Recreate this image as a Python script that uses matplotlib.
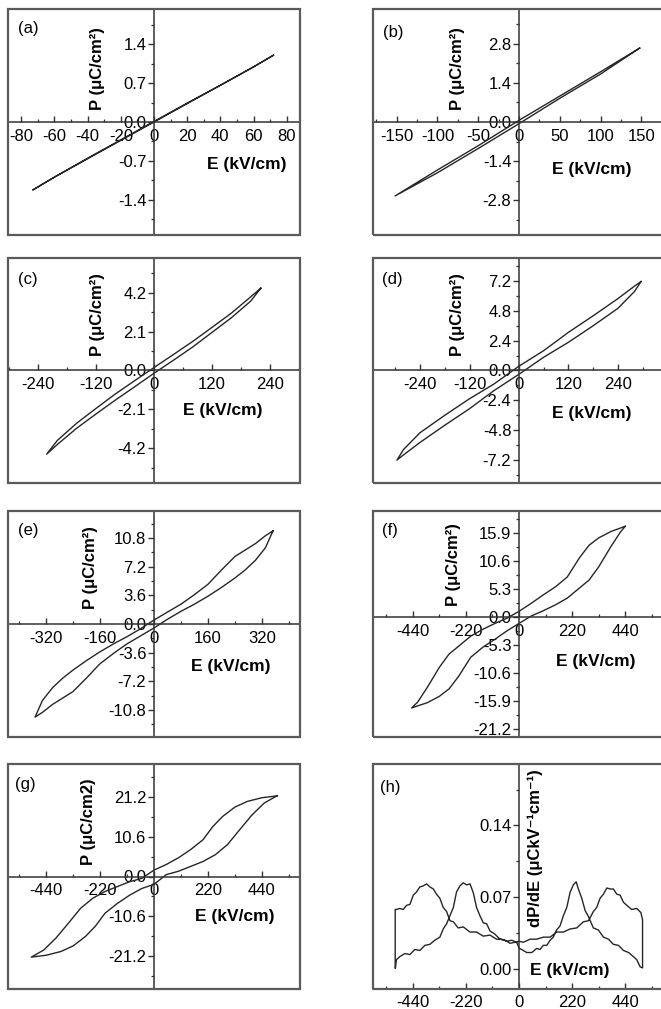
import matplotlib
matplotlib.use('Agg')
import matplotlib.pyplot as plt
from matplotlib.patches import Rectangle
from matplotlib.ticker import MultipleLocator, FormatStrFormatter

plt.rcParams['font.family'] = ['Liberation Sans', 'DejaVu Sans']
plt.rcParams['axes.unicode_minus'] = False

# ---------------- data ----------------
# each loop: upper branch (E decreasing) followed by lower branch (E increasing)
Ea = [72, 60, 40, 20, 0, -20, -40, -60, -73, -60, -40, -20, 0, 20, 40, 60, 72]
Pa = [1.20, 0.99, 0.66, 0.34, 0.01, -0.32, -0.65, -0.99, -1.22,
      -0.99, -0.66, -0.33, 0.00, 0.33, 0.66, 0.99, 1.20]

Eb = [148, 100, 50, 0, -50, -100, -152, -100, -50, 0, 50, 100, 148]
Pb = [2.65, 1.80, 0.93, 0.06, -0.85, -1.72, -2.65, -1.82, -0.95, -0.06, 0.85, 1.72, 2.65]

Ec = [221, 200, 160, 120, 80, 40, 0, -40, -80, -120, -160, -200, -222,
      -200, -160, -120, -80, -40, 0, 40, 80, 120, 160, 200, 221]
Pc = [4.45, 3.98, 3.10, 2.33, 1.57, 0.86, 0.16, -0.55, -1.27, -2.05, -2.85, -3.78, -4.52,
      -4.00, -3.12, -2.35, -1.60, -0.88, -0.15, 0.55, 1.27, 2.06, 2.85, 3.75, 4.45]

Ed = [296, 280, 240, 180, 120, 60, 0, -60, -120, -180, -240, -280, -296,
      -280, -240, -180, -120, -60, 0, 60, 120, 180, 240, 280, 296]
Pd = [7.15, 6.78, 5.78, 4.40, 3.07, 1.60, 0.35, -1.07, -2.27, -3.60, -5.00, -6.35, -7.20,
      -6.78, -5.78, -4.40, -3.07, -1.60, -0.30, 1.07, 2.27, 3.60, 5.00, 6.35, 7.15]

Ee = [352, 330, 300, 270, 240, 200, 160, 120, 80, 40, 0, -40, -80, -120, -160, -200,
      -240, -270, -300, -330, -352,
      -330, -300, -270, -240, -200, -160, -120, -80, -40, 0, 40, 80, 120, 160, 200,
      240, 270, 300, 330, 352]
Pe = [11.7, 11.1, 10.1, 9.3, 8.5, 6.8, 5.0, 3.7, 2.5, 1.5, 0.5, -0.6, -1.6, -2.5, -3.5,
      -4.6, -5.8, -6.8, -8.0, -9.6, -11.7,
      -11.1, -10.1, -9.3, -8.5, -6.8, -5.0, -3.7, -2.5, -1.5, -0.5, 0.6, 1.6, 2.5, 3.5,
      4.6, 5.8, 6.8, 8.0, 9.6, 11.7]

Ef = [440, 380, 330, 290, 250, 200, 150, 100, 50, 0, -50, -100, -150, -200, -250,
      -290, -330, -380, -420, -445,
      -380, -330, -290, -250, -200, -150, -100, -50, 0, 50, 100, 150, 200, 250,
      290, 330, 380, 420, 440]
Pf = [17.2, 16.2, 15.0, 13.6, 11.2, 7.6, 5.7, 4.2, 2.6, 1.1, -0.2, -1.2, -2.3, -3.6, -5.5,
      -7.0, -9.5, -13.3, -16.1, -17.2,
      -16.2, -15.0, -13.6, -11.2, -7.6, -5.7, -4.2, -2.6, -1.2, 0.2, 1.2, 2.3, 3.6, 5.5,
      7.0, 9.5, 13.3, 16.1, 17.2]

Eg = [502, 440, 380, 330, 280, 240, 200, 150, 100, 50, 0, -50, -100, -150, -200,
      -250, -300, -350, -400, -450, -501,
      -440, -380, -330, -280, -240, -200, -150, -100, -50, 0, 50, 100, 150, 200,
      250, 300, 350, 400, 450, 502]
Pg = [21.5, 21.0, 20.0, 18.5, 16.0, 13.3, 9.8, 7.2, 5.0, 3.2, 1.7, -0.5, -1.4, -2.7, -4.0,
      -5.8, -8.5, -12.5, -16.4, -19.6, -21.5,
      -21.0, -20.0, -18.5, -16.0, -13.3, -9.8, -7.2, -5.0, -3.2, -2.1, 0.5, 1.4, 2.7, 4.0,
      5.8, 8.5, 12.5, 16.4, 19.6, 21.5]

# (h) dP/dE : rising-field branch, then falling-field branch
Eh_up = [-512, -508, -494, -473, -452, -432, -411, -390, -369, -349, -328, -314, -300,
         -286, -272, -259, -245, -231, -217, -203, -189, -176, -162, -148, -134, -120,
         -100, -79, -58, -37, -17, 1, 18, 46, 73, 101, 129, 156, 184, 212, 239, 267,
         288, 308, 322, 336, 350, 364, 378, 391, 405, 419, 433, 447, 467, 488, 505, 512, 512]
Dh_up = [0.001, 0.009, 0.012, 0.015, 0.014, 0.019, 0.018, 0.023, 0.024, 0.028, 0.031, 0.039,
         0.044, 0.052, 0.060, 0.075, 0.081, 0.084, 0.082, 0.083, 0.074, 0.060, 0.052, 0.045,
         0.044, 0.037, 0.034, 0.029, 0.028, 0.025, 0.026, 0.027, 0.026, 0.029, 0.029, 0.031,
         0.031, 0.036, 0.036, 0.039, 0.040, 0.046, 0.047, 0.056, 0.060, 0.069, 0.073,
         0.079, 0.078, 0.078, 0.073, 0.072, 0.065, 0.062, 0.058, 0.059, 0.055, 0.048, 0.001]
Eh_dn = [512, 502, 488, 474, 454, 433, 412, 391, 371, 350, 329, 308, 288, 274, 260, 246,
         237, 225, 212, 198, 184, 170, 156, 142, 129, 115, 101, 87, 73, 53, 32, 11, 1,
         -10, -30, -51, -72, -93, -120, -148, -176, -203, -231, -252, -272, -286, -300,
         -314, -328, -342, -355, -369, -383, -397, -411, -425, -438, -452, -466, -480,
         -494, -508, -513, -513]
Dh_dn = [0.001, 0.002, 0.009, 0.012, 0.016, 0.018, 0.023, 0.024, 0.029, 0.031, 0.038,
         0.040, 0.051, 0.057, 0.069, 0.078, 0.085, 0.082, 0.075, 0.060, 0.052, 0.042,
         0.038, 0.031, 0.028, 0.023, 0.023, 0.019, 0.020, 0.016, 0.016, 0.019, 0.020,
         0.026, 0.028, 0.027, 0.029, 0.029, 0.033, 0.032, 0.036, 0.036, 0.041, 0.040,
         0.046, 0.047, 0.056, 0.060, 0.069, 0.073, 0.078, 0.080, 0.083, 0.081, 0.080,
         0.075, 0.072, 0.063, 0.062, 0.058, 0.059, 0.058, 0.058, 0.001]

# ---------------- figure ----------------
W, H = 661, 1009
fig = plt.figure(figsize=(W / 100, H / 100), dpi=100)

cols = [(8, 300), (373, 665)]
rows = [(9, 235), (258, 483), (511, 737), (764, 989)]

def pos(c, r):
    (x0, x1), (y0, y1) = cols[c], rows[r]
    return [x0 / W, 1 - y1 / H, (x1 - x0) / W, (y1 - y0) / H]

ulab = 'P (\u03bcC/cm\u00b2)'
panels = [
    dict(tag='(a)', c=0, r=0, E=Ea, P=Pa, xlim=88, xs=20, ylim=(-2.03, 2.03), ys=0.7,
         fmt='%.1f', yl=ulab, ylp=(0.305, 0.735), xlp=(0.818, 0.31), tp=(0.035, 0.945)),
    dict(tag='(b)', c=1, r=0, E=Eb, P=Pb, xlim=179, xs=50, ylim=(-4.05, 4.05), ys=1.4,
         fmt='%.1f', yl=ulab, ylp=(0.288, 0.735), xlp=(0.75, 0.288), tp=(0.034, 0.93)),
    dict(tag='(c)', c=0, r=1, E=Ec, P=Pc, xlim=302, xs=120, ylim=(-6.08, 6.08), ys=2.1,
         fmt='%.1f', yl=ulab, ylp=(0.308, 0.749), xlp=(0.736, 0.324), tp=(0.035, 0.938)),
    dict(tag='(d)', c=1, r=1, E=Ed, P=Pd, xlim=354, xs=120, ylim=(-9.04, 9.04), ys=2.4,
         fmt='%.1f', yl=ulab, ylp=(0.288, 0.747), xlp=(0.75, 0.307), tp=(0.031, 0.938)),
    dict(tag='(e)', c=0, r=2, E=Ee, P=Pe, xlim=432, xs=160, ylim=(-14.2, 14.2), ys=3.6,
         fmt='%.1f', yl=ulab, ylp=(0.281, 0.75), xlp=(0.764, 0.31), tp=(0.035, 0.947)),
    dict(tag='(f)', c=1, r=2, E=Ef, P=Pf, xlim=605, xs=220, ylim=(-22.7, 20.1), ys=5.3,
         fmt='%.1f', yl=ulab, ylp=(0.274, 0.763), xlp=(0.764, 0.336), tp=(0.031, 0.947)),
    dict(tag='(g)', c=0, r=3, E=Eg, P=Pg, xlim=596, xs=220, ylim=(-30, 30), ys=10.6,
         fmt='%.1f', yl='P (\u03bcC/cm2)', ylp=(0.274, 0.742), xlp=(0.777, 0.32),
         tp=(0.024, 0.942)),
]

frame_c = '#5a5a5a'
axis_c = '#333333'
line_c = '#262626'
TFS = 12

def style(ax, bottom_zero=True):
    for s in ('top', 'right'):
        ax.spines[s].set_visible(False)
    ax.spines['left'].set_position('zero')
    if bottom_zero:
        ax.spines['bottom'].set_position('zero')
    for s in ('left', 'bottom'):
        ax.spines[s].set_color(axis_c)
        ax.spines[s].set_linewidth(1.1)
    ax.add_patch(Rectangle((0, 0), 1, 1, transform=ax.transAxes, fill=False,
                           edgecolor=frame_c, linewidth=1.6, clip_on=False, zorder=5))
    ax.tick_params(axis='x', which='both', direction='in', pad=5, labelsize=TFS,
                   color=axis_c)
    ax.tick_params(axis='y', which='both', direction='out', pad=1.5, labelsize=TFS,
                   color=axis_c)
    ax.tick_params(which='major', length=4, width=1)
    ax.tick_params(which='minor', length=2.5, width=0.9)

for p in panels:
    ax = fig.add_axes(pos(p['c'], p['r']))
    ax.plot(p['E'], p['P'], color=line_c, lw=1.0)
    ax.set_xlim(-p['xlim'], p['xlim'])
    ax.set_ylim(*p['ylim'])
    ax.xaxis.set_major_locator(MultipleLocator(p['xs']))
    ax.xaxis.set_minor_locator(MultipleLocator(p['xs'] / 2))
    ax.yaxis.set_major_locator(MultipleLocator(p['ys']))
    ax.yaxis.set_minor_locator(MultipleLocator(p['ys'] / 2))
    ax.yaxis.set_major_formatter(FormatStrFormatter(p['fmt']))
    style(ax)
    ax.text(*p['tp'], p['tag'], transform=ax.transAxes, fontsize=12, va='top', ha='left')
    ax.text(*p['ylp'], p['yl'], transform=ax.transAxes, fontsize=12, fontweight='bold',
            rotation=90, ha='center', va='center')
    ax.text(*p['xlp'], 'E (kV/cm)', transform=ax.transAxes, fontsize=12.5,
            fontweight='bold', ha='center', va='center')

# panel (h)
ax = fig.add_axes(pos(1, 3))
ax.plot(Eh_up + Eh_dn, Dh_up + Dh_dn, color=line_c, lw=1.0)
ax.set_xlim(-605, 605)
ax.set_ylim(-0.0196, 0.2)
ax.xaxis.set_major_locator(MultipleLocator(220))
ax.xaxis.set_minor_locator(MultipleLocator(110))
ax.yaxis.set_major_locator(MultipleLocator(0.07))
ax.yaxis.set_minor_locator(MultipleLocator(0.035))
ax.yaxis.set_major_formatter(FormatStrFormatter('%.2f'))
style(ax, bottom_zero=False)
ax.tick_params(axis='x', pad=4)
ax.text(0.024, 0.93, '(h)', transform=ax.transAxes, fontsize=12, va='top', ha='left')
ax.text(0.555, 0.627, 'dP/dE (\u03bcCkV\u207b\u00b9cm\u207b\u00b9)', transform=ax.transAxes,
        fontsize=12, fontweight='bold', rotation=90, ha='center', va='center')
ax.text(0.675, 0.08, 'E (kV/cm)', transform=ax.transAxes, fontsize=12.5,
        fontweight='bold', ha='center', va='center')

fig.savefig('out.png', dpi=100)
